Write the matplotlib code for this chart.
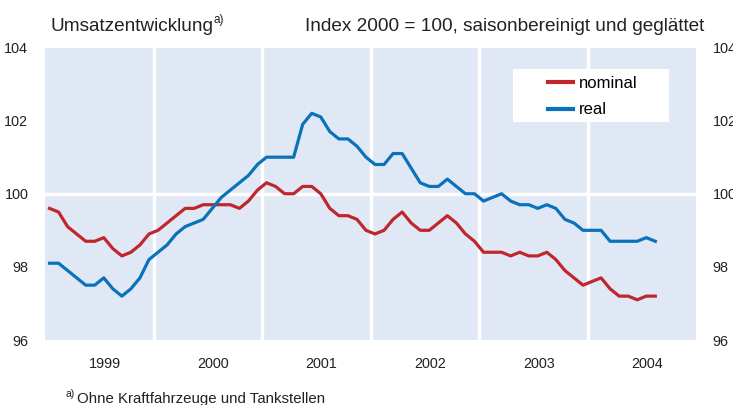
import matplotlib.pyplot as plt
from matplotlib.patches import Rectangle
import numpy as np

plt.rcParams["font.family"] = ["Liberation Sans", "DejaVu Sans"]

# monthly values, Jan 1999 .. Aug 2004
nominal = [
    99.6, 99.5, 99.1, 98.9, 98.7, 98.7, 98.8, 98.5, 98.3, 98.4, 98.6, 98.9,
    99.0, 99.2, 99.4, 99.6, 99.6, 99.7, 99.7, 99.7, 99.7, 99.6, 99.8, 100.1,
    100.3, 100.2, 100.0, 100.0, 100.2, 100.2, 100.0, 99.6, 99.4, 99.4, 99.3, 99.0,
    98.9, 99.0, 99.3, 99.5, 99.2, 99.0, 99.0, 99.2, 99.4, 99.2, 98.9, 98.7,
    98.4, 98.4, 98.4, 98.3, 98.4, 98.3, 98.3, 98.4, 98.2, 97.9, 97.7, 97.5,
    97.6, 97.7, 97.4, 97.2, 97.2, 97.1, 97.2, 97.2,
]
real = [
    98.1, 98.1, 97.9, 97.7, 97.5, 97.5, 97.7, 97.4, 97.2, 97.4, 97.7, 98.2,
    98.4, 98.6, 98.9, 99.1, 99.2, 99.3, 99.6, 99.9, 100.1, 100.3, 100.5, 100.8,
    101.0, 101.0, 101.0, 101.0, 101.9, 102.2, 102.1, 101.7, 101.5, 101.5, 101.3, 101.0,
    100.8, 100.8, 101.1, 101.1, 100.7, 100.3, 100.2, 100.2, 100.4, 100.2, 100.0, 100.0,
    99.8, 99.9, 100.0, 99.8, 99.7, 99.7, 99.6, 99.7, 99.6, 99.3, 99.2, 99.0,
    99.0, 99.0, 98.7, 98.7, 98.7, 98.7, 98.8, 98.7,
]
years = [1999, 2000, 2001, 2002, 2003, 2004]
yticks = [96, 98, 100, 102, 104]

RED = "#c0272d"
BLUE = "#0a72ba"
PANEL = "#e1e8f5"

t = 1999 + (np.arange(len(nominal)) + 0.5) / 12

fig = plt.figure(figsize=(7.33, 4.05), dpi=100)
ax = fig.add_axes([45 / 733, 65 / 405, 651 / 733, 292.5 / 405])
ax.set_facecolor(PANEL)

for y in years[1:]:
    ax.axvline(y, color="white", lw=2.4, zorder=1)
ax.axhline(100, color="white", lw=2.4, zorder=1)

ax.plot(t, nominal, color=RED, lw=2.3, label="nominal", zorder=3)
ax.plot(t, real, color=BLUE, lw=2.3, label="real", zorder=3)

ax.set_xlim(1999, 2005)
ax.set_ylim(96, 104)
ax.set_yticks(yticks)
ax.set_xticks([y + 0.55 for y in years])
ax.set_xticklabels([str(y) for y in years])
ax.tick_params(axis="both", length=0, labelsize=10.4, colors="#222222")
ax.tick_params(axis="x", pad=12)
ax.tick_params(axis="y", pad=12, labelright=True)
for s in ax.spines.values():
    s.set_visible(False)

# white legend box
ax.add_patch(Rectangle((468 / 651, 218 / 292.5), 156 / 651, 53 / 292.5,
                       transform=ax.transAxes, facecolor="white",
                       edgecolor="none", zorder=4))
leg = ax.legend(loc="upper left", bbox_to_anchor=(503 / 651, (340 - 76) / 292.5),
                fontsize=12, frameon=False, handlelength=1.5,
                handletextpad=0.35, borderpad=0, labelspacing=0.68,
                borderaxespad=0)
leg.set_zorder(5)
for line in leg.get_lines():
    line.set_linewidth(3)

fig.text(50 / 733, 1 - 31 / 405, "Umsatzentwicklung", fontsize=13.7,
         va="baseline", ha="left", color="#222222")
fig.text(214 / 733, 1 - 23 / 405, "a)", fontsize=8.5,
         va="baseline", ha="left", color="#222222")
fig.text(704 / 733, 1 - 31 / 405, "Index 2000 = 100, saisonbereinigt und geglättet",
         fontsize=13.7, va="baseline", ha="right", color="#222222")

fig.text(66 / 733, 1 - 397 / 405, "a)", fontsize=7.5, va="baseline",
         ha="left", color="#222222")
fig.text(77 / 733, 1 - 403 / 405, "Ohne Kraftfahrzeuge und Tankstellen",
         fontsize=10.8, va="baseline", ha="left", color="#222222")

fig.savefig("out.png", dpi=100)
